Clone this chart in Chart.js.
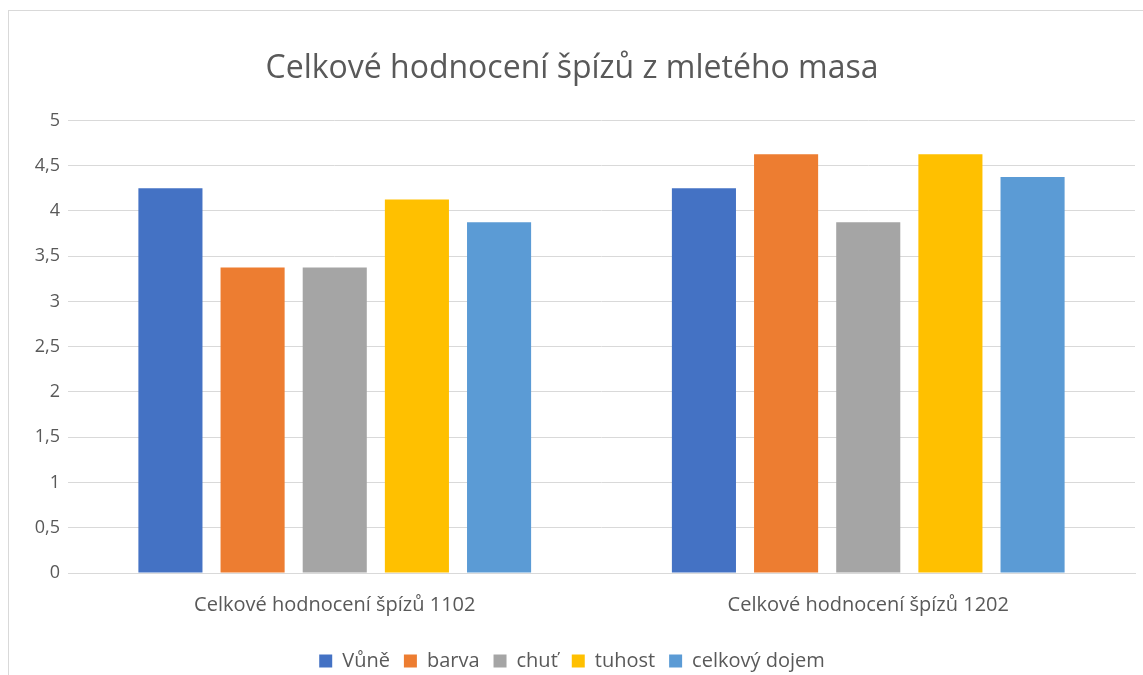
<!DOCTYPE html>
<html><head><meta charset="utf-8">
<script src="https://cdn.jsdelivr.net/npm/chart.js@4"></script>
<style>
html,body{margin:0;padding:0;background:#fff;overflow:hidden;}
#box{position:absolute;left:8px;top:10px;width:1150px;height:680px;border:1px solid #d9d9d9;}
canvas{display:block;}
</style></head><body>
<div id="box"><canvas id="c" width="1150" height="670"></canvas></div>
<script>
const categories = ["Celkové hodnocení špízů 1102", "Celkové hodnocení špízů 1202"];
const seriesNames = ["Vůně", "barva", "chuť", "tuhost", "celkový dojem"];
const vune = [4.25, 4.25];
const barva = [3.375, 4.625];
const chut = [3.375, 3.875];
const tuhost = [4.125, 4.625];
const dojem = [3.875, 4.375];
const colors = ["#4472C4", "#ED7D31", "#A5A5A5", "#FFC000", "#5B9BD5"];
const yTicks = [0, 0.5, 1, 1.5, 2, 2.5, 3, 3.5, 4, 4.5, 5];
const FONT = "'Open Sans', Lato, sans-serif";
const TXT = "#595959";
const values = [vune, barva, chut, tuhost, dojem];
new Chart(document.getElementById('c'), {
  type: 'bar',
  data: {
    labels: categories,
    datasets: seriesNames.map((n, i) => ({
      label: n, data: values[i], backgroundColor: colors[i],
      categoryPercentage: 0.77, barPercentage: 0.78
    }))
  },
  options: {
    responsive: false, animation: false,
    layout: { padding: { left: 0, right: 24, top: 0, bottom: 0 } },
    plugins: {
      title: { display: true, text: "Celkové hodnocení špízů z mletého masa", color: TXT,
        font: { family: FONT, size: 32, weight: 'normal' }, padding: { top: 39, bottom: 32 } },
      legend: { position: 'bottom', labels: { color: TXT, font: { family: FONT, size: 20 },
        boxWidth: 13, boxHeight: 13, padding: 14 } },
      tooltip: { enabled: false }
    },
    scales: {
      x: {
        afterFit: s => { s.height += 8; },
        grid: { display: false }, border: { color: '#d9d9d9', width: 1 },
        ticks: { color: TXT, font: { family: FONT, size: 20 }, padding: 12 }
      },
      y: {
        min: 0, max: 5,
        afterBuildTicks: s => { s.ticks = yTicks.map(v => ({ value: v })); },
        afterFit: s => { s.width = 59; },
        border: { display: false },
        grid: { color: '#d9d9d9', drawTicks: false },
        ticks: { color: TXT, font: { family: FONT, size: 18 }, padding: 8,
          callback: v => String(v).replace('.', ',') }
      }
    }
  }
});
</script></body></html>
